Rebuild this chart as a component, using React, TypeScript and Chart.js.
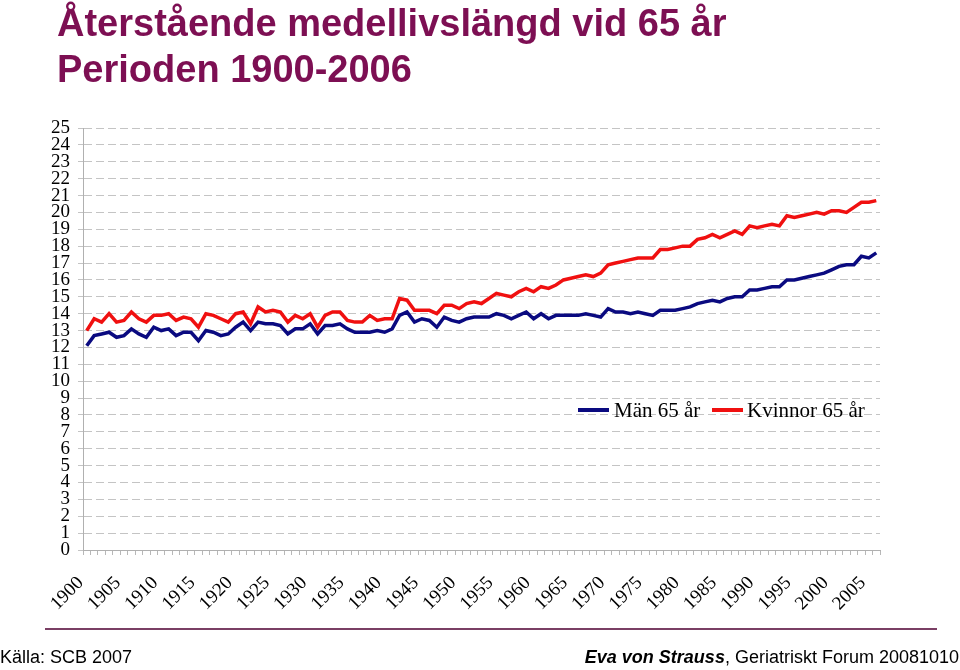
import React, { useEffect, useRef } from "react";
import { Chart, registerables } from "chart.js";

Chart.register(...registerables);

const FIRST_YEAR = 1900;
const LAST_YEAR = 2006;
const years: string[] = [];
for (let y = FIRST_YEAR; y <= LAST_YEAR; y++) years.push(String(y));

const yTicks = [0, 25];

const men65 = [
  12.1, 12.7, 12.8, 12.9, 12.6, 12.7, 13.1, 12.8, 12.6, 13.2,
  13.0, 13.1, 12.7, 12.9, 12.9, 12.4, 13.0, 12.9, 12.7, 12.8,
  13.2, 13.5, 13.0, 13.5, 13.4, 13.4, 13.3, 12.8, 13.1, 13.1,
  13.4, 12.8, 13.3, 13.3, 13.4, 13.1, 12.9, 12.9, 12.9, 13.0,
  12.9, 13.1, 13.9, 14.1, 13.5, 13.7, 13.6, 13.2, 13.8, 13.6,
  13.5, 13.7, 13.8, 13.8, 13.8, 14.0, 13.9, 13.7, 13.9, 14.1,
  13.7, 14.0, 13.7, 13.9, 13.9, 13.9, 13.9, 14.0, 13.9, 13.8,
  14.3, 14.1, 14.1, 14.0, 14.1, 14.0, 13.9, 14.2, 14.2, 14.2,
  14.3, 14.4, 14.6, 14.7, 14.8, 14.7, 14.9, 15.0, 15.0, 15.4,
  15.4, 15.5, 15.6, 15.6, 16.0, 16.0, 16.1, 16.2, 16.3, 16.4,
  16.6, 16.8, 16.9, 16.9, 17.4, 17.3, 17.6,
];

const women65 = [
  13.0, 13.7, 13.5, 14.0, 13.5, 13.6, 14.1, 13.7, 13.5, 13.9,
  13.9, 14.0, 13.6, 13.8, 13.7, 13.2, 14.0, 13.9, 13.7, 13.5,
  14.0, 14.1, 13.4, 14.4, 14.1, 14.2, 14.1, 13.5, 13.9, 13.7,
  14.0, 13.2, 13.9, 14.1, 14.1, 13.6, 13.5, 13.5, 13.9, 13.6,
  13.7, 13.7, 14.9, 14.8, 14.2, 14.2, 14.2, 14.0, 14.5, 14.5,
  14.3, 14.6, 14.7, 14.6, 14.9, 15.2, 15.1, 15.0, 15.3, 15.5,
  15.3, 15.6, 15.5, 15.7, 16.0, 16.1, 16.2, 16.3, 16.2, 16.4,
  16.9, 17.0, 17.1, 17.2, 17.3, 17.3, 17.3, 17.8, 17.8, 17.9,
  18.0, 18.0, 18.4, 18.5, 18.7, 18.5, 18.7, 18.9, 18.7, 19.2,
  19.1, 19.2, 19.3, 19.2, 19.8, 19.7, 19.8, 19.9, 20.0, 19.9,
  20.1, 20.1, 20.0, 20.3, 20.6, 20.6, 20.7,
];

const seriesNames = ["Män 65 år", "Kvinnor 65 år"];
const seriesColors = ["#0a0a80", "#f01010"];

const titleLines = ["Återstående medellivslängd vid 65 år", "Perioden 1900-2006"];

const PLOT_LEFT = 83;
const PLOT_RIGHT = 880;
const PLOT_TOP = 128;
const PLOT_BOTTOM = 550;
const W = 960;
const H = 670;

export default function App() {
  const ref = useRef<HTMLCanvasElement | null>(null);

  useEffect(() => {
    const prevMargin = document.body.style.margin;
    document.body.style.margin = "0";
    if (!ref.current) return;
    const chart = new Chart(ref.current, {
      type: "line",
      data: {
        labels: years,
        datasets: [
          {
            label: seriesNames[0],
            data: men65,
            borderColor: seriesColors[0],
            backgroundColor: seriesColors[0],
            borderWidth: 3.5,
            pointRadius: 0,
            tension: 0,
          },
          {
            label: seriesNames[1],
            data: women65,
            borderColor: seriesColors[1],
            backgroundColor: seriesColors[1],
            borderWidth: 3.5,
            pointRadius: 0,
            tension: 0,
          },
        ],
      },
      options: {
        animation: false,
        responsive: false,
        maintainAspectRatio: false,
        layout: {
          padding: { left: 0, right: W - PLOT_RIGHT, top: PLOT_TOP, bottom: 0 },
        },
        plugins: {
          legend: { display: false },
          tooltip: { enabled: false },
          title: { display: false },
        },
        scales: {
          x: {
            type: "category",
            offset: true,
            afterFit: (scale: any) => {
              scale.height = H - PLOT_BOTTOM;
            },
            grid: {
              display: true,
              drawOnChartArea: false,
              drawTicks: true,
              tickLength: 5,
              offset: true,
              color: "#b8b8b8",
              lineWidth: 1,
            },
            border: { display: true, color: "#b0b0b0", width: 1 },
            ticks: {
              autoSkip: false,
              maxRotation: 45,
              minRotation: 45,
              padding: 17,
              labelOffset: -6,
              color: "#000",
              font: { family: "'Liberation Serif', 'Times New Roman', serif", size: 19 },
              callback: (_v: any, i: number) =>
                Number(years[i]) % 5 === 0 ? years[i] : "",
            },
          },
          y: {
            min: yTicks[0],
            max: yTicks[1],
            afterFit: (scale: any) => {
              scale.width = PLOT_LEFT;
            },
            grid: {
              display: true,
              color: "#c4c4c4",
              lineWidth: 1,
              drawTicks: true,
              tickLength: 5,
              tickBorderDash: [],
            },
            border: { display: true, color: "#b0b0b0", width: 1, dash: [8, 4] },
            ticks: {
              stepSize: 1,
              autoSkip: false,
              padding: 8,
              color: "#000",
              font: { family: "'Liberation Serif', 'Times New Roman', serif", size: 19 },
            },
          },
        },
      },
    });
    return () => {
      chart.destroy();
      document.body.style.margin = prevMargin;
    };
  }, []);

  const sans = "'Liberation Sans', Arial, sans-serif";
  const serif = "'Liberation Serif', 'Times New Roman', serif";

  return (
    <div
      style={{
        position: "fixed",
        left: 0,
        top: 0,
        width: W,
        height: H,
        background: "#fff",
        overflow: "hidden",
      }}
    >
      <canvas ref={ref} width={W} height={H} style={{ position: "absolute", left: 0, top: 0, width: W, height: H }} />
      <div
        style={{
          position: "absolute",
          left: 57,
          top: 0,
          fontFamily: sans,
          fontWeight: "bold",
          fontSize: 38,
          lineHeight: "46px",
          color: "#7d0f53",
          whiteSpace: "nowrap",
        }}
      >
        <div>{titleLines[0]}</div>
        <div>{titleLines[1]}</div>
      </div>

      {/* legend */}
      <div style={{ position: "absolute", left: 578, top: 408, width: 31, height: 4, background: seriesColors[0] }} />
      <div
        style={{
          position: "absolute",
          left: 614,
          top: 398,
          fontFamily: serif,
          fontSize: 21,
          lineHeight: "24px",
          color: "#000",
          whiteSpace: "nowrap",
        }}
      >
        {seriesNames[0]}
      </div>
      <div style={{ position: "absolute", left: 712, top: 408, width: 31, height: 4, background: seriesColors[1] }} />
      <div
        style={{
          position: "absolute",
          left: 747,
          top: 398,
          fontFamily: serif,
          fontSize: 21,
          lineHeight: "24px",
          color: "#000",
          whiteSpace: "nowrap",
        }}
      >
        {seriesNames[1]}
      </div>

      {/* footer rule */}
      <div style={{ position: "absolute", left: 45, top: 628, width: 892, height: 2, background: "#7a3f64" }} />
      <div
        style={{
          position: "absolute",
          left: 0,
          top: 647,
          fontFamily: sans,
          fontSize: 18,
          lineHeight: "21px",
          color: "#000",
          whiteSpace: "nowrap",
        }}
      >
        Källa: SCB 2007
      </div>
      <div
        style={{
          position: "absolute",
          right: 1,
          top: 647,
          fontFamily: sans,
          fontSize: 18,
          lineHeight: "21px",
          color: "#000",
          whiteSpace: "nowrap",
        }}
      >
        <span style={{ fontWeight: "bold", fontStyle: "italic" }}>Eva von Strauss</span>
        , Geriatriskt Forum 20081010
      </div>
    </div>
  );
}
